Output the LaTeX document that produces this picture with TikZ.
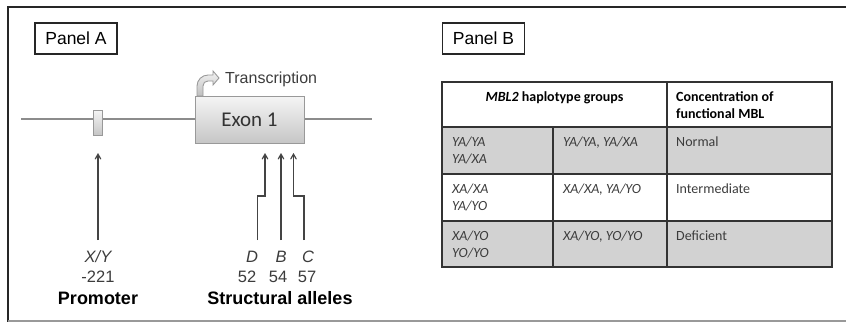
\documentclass[tikz,border=0pt]{standalone}
\usepackage{fontspec}
\setmainfont{Liberation Sans}
\newfontfamily\calfont{Carlito}
\usetikzlibrary{positioning, arrows, calc}
\definecolor{txtgray}{HTML}{3C3C3C}
\definecolor{linegray}{HTML}{8C8C8C}
\definecolor{arrowgray}{HTML}{444444}
\tikzset{
    panel/.style    = {draw, rectangle, line width=1.3pt, draw=black!85, minimum width=82pt, minimum height=31pt, inner sep=0pt, font=\fontsize{17.5}{20}\selectfont},
    exon/.style     = {draw, rectangle, minimum width=109pt, minimum height=47pt, inner sep=0pt, draw=gray!80, line width=1pt, top color=gray!8, bottom color=gray!45, font=\calfont\fontsize{21}{24}\selectfont, text=black!80},
    snpbox/.style   = {draw, rectangle, minimum width=9pt, minimum height=25pt, inner sep=0pt, draw=gray!80, line width=1pt, top color=gray!8, bottom color=gray!45},
    allele/.style   = {anchor=base, inner sep=0pt, font=\fontsize{16.5}{19}\selectfont, text=txtgray},
    region/.style   = {anchor=base, inner sep=0pt, font=\bfseries\fontsize{18}{21}\selectfont},
    marker/.style   = {->, >=angle 60, line width=1.2pt, draw=arrowgray},
    cell/.style     = {draw, rectangle, line width=1.4pt, draw=black!80, inner sep=0pt, outer sep=0pt, anchor=north west},
    celltext/.style = {anchor=north west, align=left, inner sep=0pt, font=\calfont\fontsize{14}{17}\selectfont, text=txtgray},
}
\begin{document}
\begin{tikzpicture}[x=1pt, y=-1pt]
  \useasboundingbox (0,0) rectangle (846,322);
  % outer frame
  \draw [line width=2pt, black!85] (846,7) -- (8,7) -- (8,322);
  \draw [line width=1.5pt, gray!80] (8,321) -- (846,321);

  % panel A: gene
  \node [name=pa, panel] at (76,38.5) {Panel A};
  \coordinate (gl) at (21,119);
  \coordinate (gr) at (372,119);
  \draw [line width=2pt, linegray] (gl) -- (gr);
  \node [name=snp, snpbox] at (97.5,122.5) {};
  \node [name=ex1, exon] at (249.5,119.5) {Exon 1};
  \draw [draw=gray!80, line width=0.9pt, top color=gray!10, bottom color=gray!50]
    (197,96) -- (197,86) .. controls (197,80) and (202,75) .. (208,75) -- (213,75) -- (213,71)
    -- (219,78) -- (213,85) -- (213,81) -- (208,81) .. controls (205,81) and (203,83) .. (203,86)
    -- (203,96) -- cycle;
  \node [name=trs, anchor=base west, inner sep=0pt, font=\fontsize{16}{19}\selectfont, text=txtgray] at (225,83) {Transcription};

  % panel A: labels
  \node [name=xy, allele] at (98,262) {\itshape X/Y};
  \node [name=p221, allele] at (98,282) {-221};
  \node [name=prom, region] at (98,304) {Promoter};
  \node [name=ad, allele] at (252,262) {\itshape D};
  \node [name=ab, allele] at (281,262) {\itshape B};
  \node [name=ac, allele] at (308,262) {\itshape C};
  \node [name=n52, allele] at (247,282) {52};
  \node [name=n54, allele] at (278,282) {54};
  \node [name=n57, allele] at (307,282) {57};
  \node [name=struc, region] at (280,304) {Structural alleles};

  % panel A: arrows
  \coordinate (jog) at (0,196);
  \coordinate (xylow) at (98,240);  \coordinate (xytip) at (98,153);
  \coordinate (dlow) at (257.5,240); \coordinate (dtip) at (265,153);
  \coordinate (blow) at (281,240);  \coordinate (btip) at (281,153);
  \coordinate (clow) at (304,240);  \coordinate (ctip) at (293.5,153);
  \draw [marker] (xylow) -- (xytip);
  \draw [marker] (dlow) -- (dlow |- jog) -| (dtip);
  \draw [marker] (blow) -- (btip);
  \draw [marker] (clow) -- (clow |- jog) -| (ctip);

  % panel B: table
  \node [name=pb, panel] at (483.5,38.5) {Panel B};
  \node [name=hd1, cell, minimum width=225pt, minimum height=45pt] at (442,82) {};
  \node [name=hd2, cell, minimum width=165pt, minimum height=45pt, right=0pt of hd1] {};
  \node [name=r1c1, cell, fill=gray!35, minimum width=111pt, minimum height=47pt, below=0pt of hd1.south west, anchor=north west] {};
  \node [name=r1c2, cell, fill=gray!35, minimum width=114pt, minimum height=47pt, right=0pt of r1c1] {};
  \node [name=r1c3, cell, fill=gray!35, minimum width=165pt, minimum height=47pt, right=0pt of r1c2] {};
  \node [name=r2c1, cell, minimum width=111pt, minimum height=47pt, below=0pt of r1c1] {};
  \node [name=r2c2, cell, minimum width=114pt, minimum height=47pt, right=0pt of r2c1] {};
  \node [name=r2c3, cell, minimum width=165pt, minimum height=47pt, right=0pt of r2c2] {};
  \node [name=r3c1, cell, fill=gray!35, minimum width=111pt, minimum height=46pt, below=0pt of r2c1] {};
  \node [name=r3c2, cell, fill=gray!35, minimum width=114pt, minimum height=46pt, right=0pt of r3c1] {};
  \node [name=r3c3, cell, fill=gray!35, minimum width=165pt, minimum height=46pt, right=0pt of r3c2] {};

  \node [name=t01, celltext, anchor=north, text=black] at ([yshift=-9pt]hd1.north) {\bfseries\itshape MBL2\upshape{} haplotype groups};
  \node [name=t02, celltext, text=black] at ([shift={(9,9)}]hd2.north west) {\bfseries Concentration of\\\bfseries functional MBL};
  \node [name=t11, celltext] at ([shift={(10,10)}]r1c1.north west) {\itshape YA/YA\\\itshape YA/XA};
  \node [name=t12, celltext] at ([shift={(10,10)}]r1c2.north west) {\itshape YA/YA, YA/XA};
  \node [name=t13, celltext] at ([shift={(9,10)}]r1c3.north west) {Normal};
  \node [name=t21, celltext] at ([shift={(10,10)}]r2c1.north west) {\itshape XA/XA\\\itshape YA/YO};
  \node [name=t22, celltext] at ([shift={(10,10)}]r2c2.north west) {\itshape XA/XA, YA/YO};
  \node [name=t23, celltext] at ([shift={(9,10)}]r2c3.north west) {Intermediate};
  \node [name=t31, celltext] at ([shift={(10,10)}]r3c1.north west) {\itshape XA/YO\\\itshape YO/YO};
  \node [name=t32, celltext] at ([shift={(10,10)}]r3c2.north west) {\itshape XA/YO, YO/YO};
  \node [name=t33, celltext] at ([shift={(9,10)}]r3c3.north west) {Deficient};
\end{tikzpicture}
\end{document}
